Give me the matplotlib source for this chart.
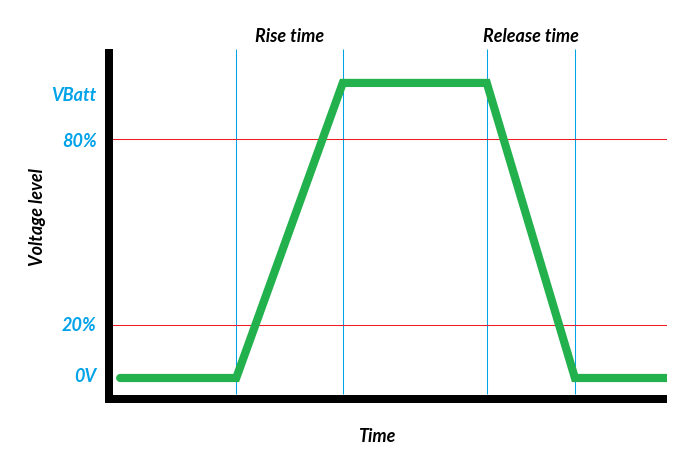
import matplotlib
matplotlib.use("Agg")
import matplotlib.pyplot as plt

# ---- data ----
# time axis (0..100 across the plot), voltage level (0 = 0V, 100 = VBatt)
signal_t = [2.0, 22.8, 41.9, 67.7, 83.5, 100.0]
signal_v = [0.0, 0.0, 100.0, 100.0, 0.0, 0.0]
marker_t = [22.8, 41.9, 67.7, 83.5]          # vertical guide lines
threshold_levels = [81.0, 18.0]               # 80% and 20% lines
level_labels = ["VBatt", "80%", "20%", "0V"]
level_label_pos = [96.3, 80.8, 18.3, 1.0]
interval_labels = ["Rise time", "Release time"]
interval_spans = [(22.8, 41.9), (67.7, 83.5)]

BLUE = "#00a2e8"
RED = "#ed1c24"
GREEN = "#22b14c"
FONT = ["Lato", "DejaVu Sans"]
FS = 13

fig = plt.figure(figsize=(6.88, 4.53), dpi=100)
W, H = 688, 453
left, right, bottom, top = 109, 667, 398.5, 49
ax = fig.add_axes([left / W, 1 - bottom / H, (right - left) / W, (bottom - top) / H])

ymin, ymax = -6.95, 111.5
ax.set_xlim(0, 100)
ax.set_ylim(ymin, ymax)

for s in ["top", "right"]:
    ax.spines[s].set_visible(False)
for s in ["left", "bottom"]:
    ax.spines[s].set_linewidth(5.76)
    ax.spines[s].set_color("black")
ax.spines["left"].set_capstyle("projecting")
ax.spines["left"].set_bounds(ymin, ymax - 4 / 2.95)
ax.spines["bottom"].set_capstyle("butt")

# guide lines
ax.vlines(marker_t, -5.4, ymax, colors=BLUE, linewidth=0.75,
          snap=True, zorder=2)
ax.hlines(threshold_levels, 0, 100, colors=RED, linewidth=0.75,
          snap=True, zorder=2)

# signal
ax.plot(signal_t, signal_v, color=GREEN, linewidth=5.9,
        solid_capstyle="round", solid_joinstyle="miter", zorder=3)

# y labels
ax.set_xticks([])
ax.set_yticks(level_label_pos)
ax.set_yticklabels(level_labels, color=BLUE, fontsize=FS,
                   fontweight="bold", fontstyle="italic", family=FONT)
ax.tick_params(axis="y", length=0, pad=9)

# interval labels above plot
for lab, (a, b) in zip(interval_labels, interval_spans):
    ax.text((a + b) / 2, 115.6, lab, ha="center", va="center",
            fontsize=FS, fontweight="bold", fontstyle="italic",
            family=FONT, color="black", clip_on=False)

fig.text(37 / W, 1 - 217 / H, "Voltage level", rotation=90, ha="center",
         va="center", fontsize=FS, fontweight="bold", fontstyle="italic",
         family=FONT, color="black")
fig.text(377 / W, 1 - 436 / H, "Time", ha="center", va="center",
         fontsize=FS, fontweight="bold", fontstyle="italic",
         family=FONT, color="black")

fig.savefig("out.png", dpi=100)
